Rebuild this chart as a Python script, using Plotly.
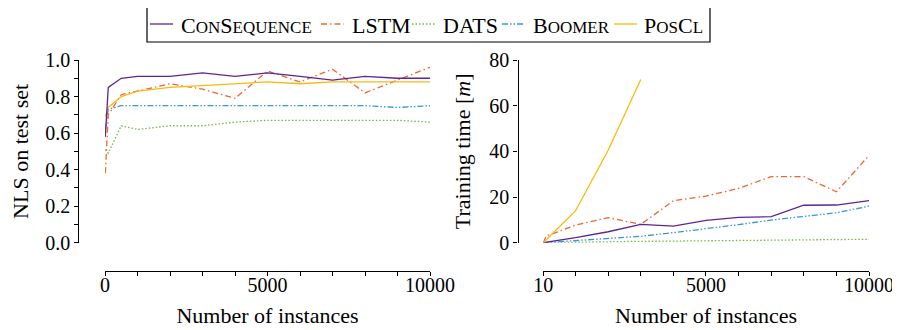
import plotly.graph_objects as go

# ---------------- data ----------------
nls_x = [10, 100, 500, 1000, 2000, 3000, 4000, 5000, 6000, 7000, 8000, 9000, 10000]
nls_conseq = [0.58, 0.85, 0.90, 0.91, 0.91, 0.93, 0.91, 0.93, 0.91, 0.89, 0.91, 0.90, 0.90]
nls_lstm = [0.38, 0.70, 0.81, 0.83, 0.87, 0.84, 0.79, 0.94, 0.88, 0.95, 0.82, 0.89, 0.96]
nls_dats = [0.51, 0.49, 0.64, 0.62, 0.64, 0.64, 0.66, 0.67, 0.67, 0.67, 0.67, 0.67, 0.66]
nls_boomer = [0.62, 0.73, 0.75, 0.75, 0.75, 0.75, 0.75, 0.75, 0.75, 0.75, 0.75, 0.74, 0.75]
nls_poscl = [0.69, 0.74, 0.80, 0.83, 0.85, 0.86, 0.87, 0.88, 0.87, 0.88, 0.88, 0.88, 0.88]

time_x = [10, 1000, 2000, 3000, 4000, 5000, 6000, 7000, 8000, 9000, 10000]
time_x_lstm = [10, 100, 1000, 2000, 3000, 4000, 5000, 6000, 7000, 8000, 9000, 10000]
time_x_poscl = [10, 1000, 2000, 3000]
time_conseq = [0, 2.2, 4.8, 8.0, 7.3, 9.8, 11.1, 11.4, 16.4, 16.5, 18.4]
time_lstm = [0, 2.9, 7.7, 11.0, 8.0, 18.4, 20.4, 23.8, 28.9, 28.9, 22.3, 38.2]
time_dats = [0, 0.3, 0.4, 0.6, 0.7, 0.8, 0.9, 1.0, 1.2, 1.3, 1.5]
time_boomer = [0, 0.9, 1.8, 2.8, 4.4, 6.0, 7.9, 9.9, 11.5, 13.1, 16.0]
time_poscl = [0, 14.0, 40.5, 71.5]

nls_ticks = [0.0, 0.2, 0.4, 0.6, 0.8, 1.0]
nls_ticktext = ["0.0", "0.2", "0.4", "0.6", "0.8", "1.0"]
time_ticks = [0, 20, 40, 60, 80]
left_xticks = [0, 5000, 10000]
left_xticktext = ["0", "5000", "10000"]
right_xticks = [10, 5000, 10000]
right_xticktext = ["10", "5000", "10000"]
minor_x = [1000, 2000, 3000, 4000, 6000, 7000, 8000, 9000]

# ---------------- styles ----------------
FONT = "Liberation Serif, Times New Roman, serif"
W, H = 900, 330
OFF = 8  # page body margin offset
C_CON = "#5e2590"
C_LSTM = "#f26430"
C_DATS = "#6fb64a"
C_BOOM = "#3796d4"
C_POS = "#f9b90f"
D_LSTM = "6px,3px,1.5px,3px"
D_DATS = "1.5px,2px"
D_BOOM = "6px,2px,1.5px,2px,1.5px,2px"

series = [
    ("ConSequence", C_CON, "solid"),
    ("LSTM", C_LSTM, D_LSTM),
    ("DATS", C_DATS, D_DATS),
    ("Boomer", C_BOOM, D_BOOM),
    ("PosCl", C_POS, "solid"),
]

fig = go.Figure()

def add(x, y, color, dash, xa, ya):
    fig.add_trace(go.Scatter(x=x, y=y, mode="lines", xaxis=xa, yaxis=ya,
                             line=dict(color=color, dash=dash, width=1.3),
                             showlegend=False, hoverinfo="skip"))

add(nls_x, nls_dats, C_DATS, D_DATS, "x", "y")
add(nls_x, nls_boomer, C_BOOM, D_BOOM, "x", "y")
add(nls_x, nls_lstm, C_LSTM, D_LSTM, "x", "y")
add(nls_x, nls_poscl, C_POS, "solid", "x", "y")
add(nls_x, nls_conseq, C_CON, "solid", "x", "y")

add(time_x, time_dats, C_DATS, D_DATS, "x2", "y2")
add(time_x, time_boomer, C_BOOM, D_BOOM, "x2", "y2")
add(time_x_lstm, time_lstm, C_LSTM, D_LSTM, "x2", "y2")
add(time_x, time_conseq, C_CON, "solid", "x2", "y2")
add(time_x_poscl, time_poscl, C_POS, "solid", "x2", "y2")

def px(x):
    return (x - OFF) / W

def py(y):
    return 1 - (y - OFF) / H

tickfont = dict(family=FONT, size=20, color="black")
titlefont = dict(family=FONT, size=22, color="black")
axis_common = dict(showline=True, linecolor="black", linewidth=1.3, showgrid=False,
                   zeroline=False, ticks="outside", ticklen=4, tickwidth=1.1,
                   tickcolor="black", tickfont=tickfont, automargin=False)
minor_x_cfg = dict(tickmode="array", tickvals=minor_x, ticks="outside",
                   ticklen=4, tickwidth=1.1, tickcolor="black")

ydom = [py(242.7), py(60)]

fig.update_layout(
    width=W, height=H, margin=dict(l=0, r=0, t=0, b=0, pad=0),
    paper_bgcolor="white", plot_bgcolor="white",
    showlegend=False,
    xaxis=dict(domain=[px(105), px(430)], range=[0, 10000], anchor="free",
               position=py(270.7), tickmode="array", tickvals=left_xticks,
               ticktext=left_xticktext, minor=minor_x_cfg, ticklabelstandoff=-8,
               title=dict(text="Number of instances", font=titlefont, standoff=12),
               **axis_common),
    yaxis=dict(domain=ydom, range=[0, 1.0], anchor="free", position=px(78.3),
               tickmode="array", tickvals=nls_ticks, ticktext=nls_ticktext,
               minor=dict(dtick=0.1, ticks="outside", ticklen=4, tickwidth=1.1,
                          tickcolor="black"),
               title=dict(text="NLS on test set", font=titlefont, standoff=21),
               **axis_common),
    xaxis2=dict(domain=[px(543.3), px(869)], range=[10, 10000], anchor="free",
                position=py(270.7), tickmode="array", tickvals=right_xticks,
                ticktext=right_xticktext, minor=minor_x_cfg, ticklabelstandoff=-8,
                title=dict(text="Number of instances", font=titlefont, standoff=12),
                **axis_common),
    yaxis2=dict(domain=ydom, range=[0, 80], anchor="free", position=px(517.5),
                tickmode="array", tickvals=time_ticks,
                title=dict(text="Training time [<i>m</i>]", font=titlefont, standoff=11),
                **axis_common),
)

# ---------------- legend (drawn manually) ----------------
SMALL = 'style="font-size:17px"'
labels = [
    'C<span %s>ON</span>S<span %s>EQUENCE</span>' % (SMALL, SMALL),
    'LSTM',
    'DATS',
    'B<span %s>OOMER</span>' % SMALL,
    'P<span %s>OS</span>C<span %s>L</span>' % (SMALL, SMALL),
]
line_x0 = [150, 321, 412, 502, 614]
text_x0 = [178.5, 350, 441, 531, 642]
ly = 24

fig.add_shape(type="rect", xref="paper", yref="paper",
              x0=px(147), x1=px(710), y0=py(42), y1=py(6),
              line=dict(color="black", width=1.2), fillcolor="rgba(0,0,0,0)")
for (name, color, dash), lx, tx, lab in zip(series, line_x0, text_x0, labels):
    fig.add_shape(type="line", xref="paper", yref="paper",
                  x0=px(lx), x1=px(lx + 23), y0=py(ly), y1=py(ly),
                  line=dict(color=color, dash=dash, width=1.3))
    fig.add_annotation(text=lab, xref="paper", yref="paper", x=px(tx), y=py(ly + 1),
                       xanchor="left", yanchor="middle", showarrow=False,
                       font=dict(family=FONT, size=22, color="black"))

fig.write_html("out.html")
